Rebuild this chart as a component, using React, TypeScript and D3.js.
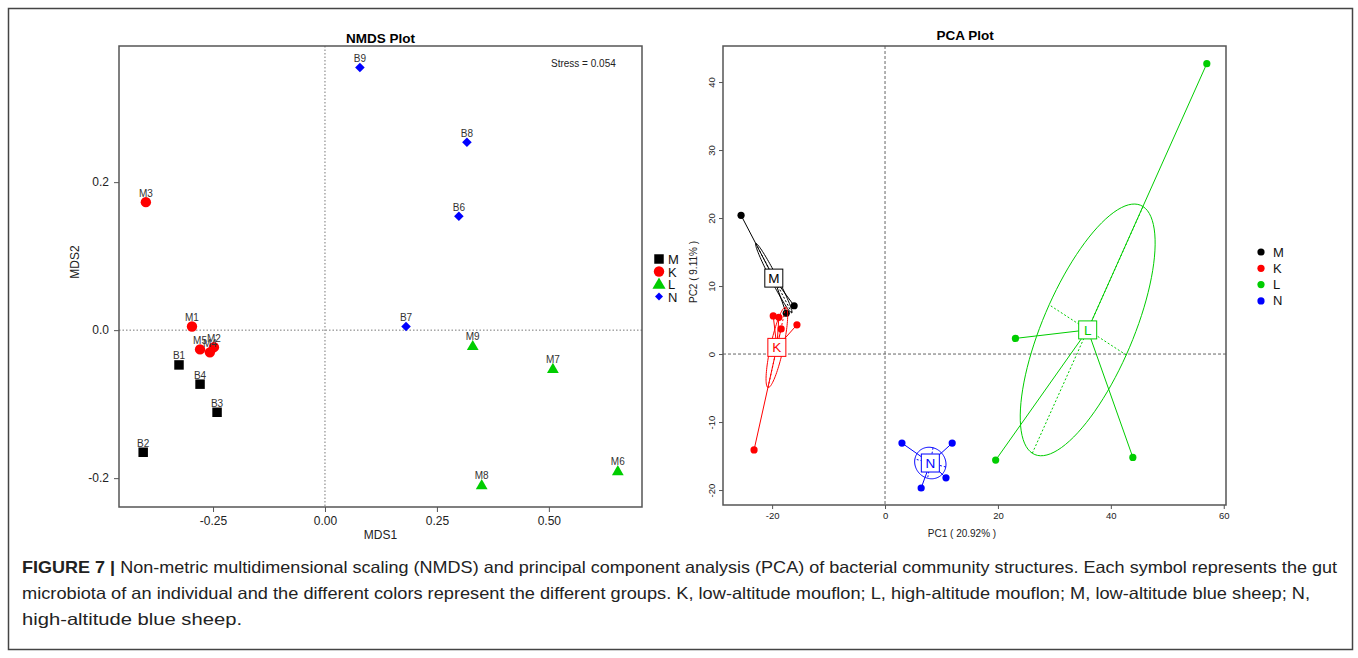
import * as d3 from 'd3';
import { useEffect, useRef } from 'react';

// NMDS samples
const nmdsLabels = ['B1', 'B2', 'B3', 'B4', 'M1', 'M2', 'M3', 'M4', 'M5', 'M6', 'M7', 'M8', 'M9', 'B6', 'B7', 'B8', 'B9'];
const nmdsGroup = ['M', 'M', 'M', 'M', 'K', 'K', 'K', 'K', 'K', 'L', 'L', 'L', 'L', 'N', 'N', 'N', 'N'];
const nmdsX = [-0.326, -0.406, -0.241, -0.279, -0.297, -0.248, -0.4, -0.257, -0.279, 0.654, 0.509, 0.35, 0.33, 0.299, 0.181, 0.317, 0.078];
const nmdsY = [-0.047, -0.165, -0.111, -0.073, 0.005, -0.023, 0.173, -0.03, -0.026, -0.19, -0.052, -0.209, -0.021, 0.154, 0.005, 0.254, 0.355];
const nmdsXTicks = [-0.25, 0, 0.25, 0.5];
const nmdsYTicks = [-0.2, 0, 0.2];
const stressText = 'Stress = 0.054';

// PCA samples
const pcaGroup = ['M', 'M', 'M', 'K', 'K', 'K', 'K', 'K', 'L', 'L', 'L', 'L', 'N', 'N', 'N', 'N'];
const pcaX = [-25.5, -16.1, -17.5, -19.8, -18.8, -18.4, -15.6, -23.2, 57.0, 23.1, 19.6, 43.9, 3.0, 11.9, 10.8, 6.4];
const pcaY = [20.4, 7.1, 6.0, 5.6, 5.4, 3.7, 4.3, -14.1, 42.7, 2.3, -15.6, -15.2, -13.1, -13.1, -18.2, -19.7];
const pcaXTicks = [-20, 0, 20, 40, 60];
const pcaYTicks = [-20, -10, 0, 10, 20, 30, 40];
const pc1Label = 'PC1 ( 20.92% )';
const pc2Label = 'PC2 ( 9.11% )';

const groups = ['M', 'K', 'L', 'N'];
const colors: Record<string, string> = { M: '#000000', K: '#ff0000', L: '#00cd00', N: '#0000ff' };

const captionBold = 'FIGURE 7 |';
const captionLines = [
  ' Non-metric multidimensional scaling (NMDS) and principal component analysis (PCA) of bacterial community structures. Each symbol represents the gut',
  'microbiota of an individual and the different colors represent the different groups. K, low-altitude mouflon; L, high-altitude mouflon; M, low-altitude blue sheep; N,',
  'high-altitude blue sheep.',
];
const captionWidths = [1315, 1288, 220];

const FONT = '"Liberation Sans", Arial, sans-serif';

// covariance ellipse (population covariance, scaled)
function ellipseOf(px: number[], py: number[], c: number) {
  const n = px.length;
  const mx = d3.mean(px)!;
  const my = d3.mean(py)!;
  let sxx = 0, syy = 0, sxy = 0;
  for (let i = 0; i < n; i++) {
    sxx += (px[i] - mx) ** 2;
    syy += (py[i] - my) ** 2;
    sxy += (px[i] - mx) * (py[i] - my);
  }
  sxx /= n; syy /= n; sxy /= n;
  const tr = (sxx + syy) / 2;
  const disc = Math.sqrt(((sxx - syy) / 2) ** 2 + sxy * sxy);
  const l1 = tr + disc;
  const l2 = Math.max(tr - disc, 0);
  let vx = sxy, vy = l1 - sxx;
  if (Math.abs(vx) < 1e-9 && Math.abs(vy) < 1e-9) { vx = 1; vy = 0; }
  const len = Math.hypot(vx, vy);
  vx /= len; vy /= len;
  const a = c * Math.sqrt(l1);
  const b = c * Math.sqrt(l2);
  const pts: [number, number][] = d3.range(0, 101).map(k => {
    const t = (k / 100) * 2 * Math.PI;
    return [mx + a * Math.cos(t) * vx - b * Math.sin(t) * vy, my + a * Math.cos(t) * vy + b * Math.sin(t) * vx];
  });
  const major: [number, number][] = [[mx - a * vx, my - a * vy], [mx + a * vx, my + a * vy]];
  const minor: [number, number][] = [[mx + b * vy, my - b * vx], [mx - b * vy, my + b * vx]];
  return { mx, my, pts, major, minor };
}

const App = () => {
  const ref = useRef<SVGSVGElement>(null);

  useEffect(() => {
    const svg = d3.select(ref.current);
    svg.selectAll('*').remove();

    svg.append('rect').attr('x', 8.5).attr('y', 8.5).attr('width', 1344).attr('height', 641)
      .attr('fill', 'white').attr('stroke', '#444').attr('stroke-width', 1.5);

    const symbol = (g: string) => {
      if (g === 'M') return d3.symbol(d3.symbolSquare, 90)();
      if (g === 'K') return d3.symbol(d3.symbolCircle, 85)();
      if (g === 'L') return d3.symbol(d3.symbolTriangle, 60)();
      return 'M0,-4.8L4.8,0L0,4.8L-4.8,0Z';
    };

    // ---------------- NMDS ----------------
    const nm = { left: 119, right: 642, top: 46, bottom: 507 };
    const x1 = d3.scaleLinear().domain([-0.46, 0.708]).range([nm.left, nm.right]);
    const y1 = d3.scaleLinear().domain([-0.239, 0.384]).range([nm.bottom, nm.top]);
    const p1 = svg.append('g').attr('font-family', FONT);

    p1.append('text').attr('x', (nm.left + nm.right) / 2).attr('y', 43).attr('text-anchor', 'middle')
      .attr('font-weight', 'bold').attr('font-size', 13.5).text('NMDS Plot');

    p1.append('line').attr('x1', x1(0)).attr('x2', x1(0)).attr('y1', nm.top).attr('y2', nm.bottom)
      .attr('stroke', '#777').attr('stroke-dasharray', '1.5,2');
    p1.append('line').attr('x1', nm.left).attr('x2', nm.right).attr('y1', y1(0)).attr('y2', y1(0))
      .attr('stroke', '#777').attr('stroke-dasharray', '1.5,2');

    const ax1 = p1.append('g').attr('transform', `translate(0,${nm.bottom})`)
      .call(d3.axisBottom(x1).tickValues(nmdsXTicks).tickSize(5).tickPadding(4).tickFormat(d => (+d).toFixed(2)));
    const ay1 = p1.append('g').attr('transform', `translate(${nm.left},0)`)
      .call(d3.axisLeft(y1).tickValues(nmdsYTicks).tickSize(5).tickPadding(5).tickFormat(d => (+d).toFixed(1)));
    [ax1, ay1].forEach(a => {
      a.select('.domain').remove();
      a.selectAll('line').attr('stroke', '#555');
      a.selectAll('text').attr('font-size', 12).attr('fill', '#222').attr('font-family', FONT);
    });

    p1.append('rect').attr('x', nm.left).attr('y', nm.top).attr('width', nm.right - nm.left).attr('height', nm.bottom - nm.top)
      .attr('fill', 'none').attr('stroke', '#555').attr('stroke-width', 1.5);

    p1.append('text').attr('x', (nm.left + nm.right) / 2).attr('y', 539).attr('text-anchor', 'middle')
      .attr('font-size', 12).attr('fill', '#222').text('MDS1');
    p1.append('text').attr('transform', `translate(79,262) rotate(-90)`).attr('text-anchor', 'middle')
      .attr('font-size', 12).attr('fill', '#222').text('MDS2');

    p1.append('text').attr('x', 551).attr('y', 67).attr('font-size', 10).attr('fill', '#222').text(stressText);

    const nIdx = d3.range(nmdsLabels.length);
    p1.selectAll('path.pt').data(nIdx).enter().append('path').attr('class', 'pt')
      .attr('transform', i => `translate(${x1(nmdsX[i])},${y1(nmdsY[i]) + (nmdsGroup[i] === 'L' ? 1 : 0)})`)
      .attr('d', i => symbol(nmdsGroup[i]))
      .attr('fill', i => colors[nmdsGroup[i]]);
    p1.selectAll('text.lab').data(nIdx).enter().append('text').attr('class', 'lab')
      .attr('x', i => x1(nmdsX[i]))
      .attr('y', i => y1(nmdsY[i]) - 5.5)
      .attr('text-anchor', 'middle').attr('font-size', 10).attr('fill', '#333')
      .text(i => nmdsLabels[i]);

    const lg1 = p1.append('g').attr('transform', 'translate(659,259)');
    groups.forEach((g, k) => {
      const yy = k * 12.5;
      lg1.append('path').attr('transform', `translate(0,${yy + (g === 'L' ? 1 : 0)})`)
        .attr('d', g === 'L' ? d3.symbol(d3.symbolTriangle, 75)() : g === 'N' ? 'M0,-4L4,0L0,4L-4,0Z' : symbol(g))
        .attr('fill', colors[g]);
      lg1.append('text').attr('x', 9).attr('y', yy + 5).attr('font-size', 13).attr('fill', '#111').text(g);
    });

    // ---------------- PCA ----------------
    const pc = { left: 723, right: 1226, top: 46, bottom: 505 };
    const x2 = d3.scaleLinear().domain([-28.7, 60.4]).range([pc.left, pc.right]);
    const y2 = d3.scaleLinear().domain([-22.2, 45.3]).range([pc.bottom, pc.top]);
    const p2 = svg.append('g').attr('font-family', FONT);

    p2.append('text').attr('x', 965).attr('y', 40).attr('text-anchor', 'middle')
      .attr('font-weight', 'bold').attr('font-size', 13.5).text('PCA Plot');

    p2.append('line').attr('x1', x2(0)).attr('x2', x2(0)).attr('y1', pc.top).attr('y2', pc.bottom)
      .attr('stroke', '#666').attr('stroke-dasharray', '3,2');
    p2.append('line').attr('x1', pc.left).attr('x2', pc.right).attr('y1', y2(0)).attr('y2', y2(0))
      .attr('stroke', '#666').attr('stroke-dasharray', '3,2');

    const ax2 = p2.append('g').attr('transform', `translate(0,${pc.bottom})`)
      .call(d3.axisBottom(x2).tickValues(pcaXTicks).tickSize(4).tickPadding(3).tickFormat(d => String(d)));
    const ay2 = p2.append('g').attr('transform', `translate(${pc.left},0)`)
      .call(d3.axisLeft(y2).tickValues(pcaYTicks).tickSize(4).tickFormat(d => String(d)));
    [ax2, ay2].forEach(a => {
      a.select('.domain').remove();
      a.selectAll('line').attr('stroke', '#555');
      a.selectAll('text').attr('font-size', 9.5).attr('fill', '#222').attr('font-family', FONT);
    });
    ay2.selectAll('text').attr('x', null).attr('dy', null)
      .attr('transform', 'translate(-8,0) rotate(-90)').attr('text-anchor', 'middle');

    p2.append('rect').attr('x', pc.left).attr('y', pc.top).attr('width', pc.right - pc.left).attr('height', pc.bottom - pc.top)
      .attr('fill', 'none').attr('stroke', '#555').attr('stroke-width', 1.5);

    p2.append('text').attr('x', 962).attr('y', 537).attr('text-anchor', 'middle')
      .attr('font-size', 10).attr('fill', '#222').text(pc1Label);
    p2.append('text').attr('transform', `translate(697,272) rotate(-90)`).attr('text-anchor', 'middle')
      .attr('font-size', 10).attr('fill', '#222').text(pc2Label);

    const line = d3.line<[number, number]>().x(d => x2(d[0])).y(d => y2(d[1]));

    groups.forEach(g => {
      const idx = d3.range(pcaGroup.length).filter(i => pcaGroup[i] === g);
      const gx = idx.map(i => pcaX[i]);
      const gy = idx.map(i => pcaY[i]);
      const e = ellipseOf(gx, gy, 0.78);
      const col = colors[g];
      const gg = p2.append('g');
      gg.append('path').attr('d', line(e.pts)).attr('fill', 'none').attr('stroke', col).attr('stroke-width', 1);
      [e.major, e.minor].forEach(seg => {
        gg.append('path').attr('d', line(seg)).attr('fill', 'none').attr('stroke', col)
          .attr('stroke-width', 1).attr('stroke-dasharray', '2,2');
      });
      idx.forEach(i => {
        gg.append('line').attr('x1', x2(e.mx)).attr('y1', y2(e.my)).attr('x2', x2(pcaX[i])).attr('y2', y2(pcaY[i]))
          .attr('stroke', col).attr('stroke-width', 1);
      });
      idx.forEach(i => {
        gg.append('circle').attr('cx', x2(pcaX[i])).attr('cy', y2(pcaY[i])).attr('r', 3.6).attr('fill', col);
      });
      gg.append('rect').attr('x', x2(e.mx) - 9).attr('y', y2(e.my) - 9).attr('width', 18).attr('height', 18)
        .attr('fill', 'white').attr('stroke', col).attr('stroke-width', 1);
      gg.append('text').attr('x', x2(e.mx)).attr('y', y2(e.my) + 5).attr('text-anchor', 'middle')
        .attr('font-size', 13.5).attr('fill', col).text(g);
    });

    const lg2 = p2.append('g').attr('transform', 'translate(1261,252)');
    groups.forEach((g, k) => {
      const yy = k * 16.3;
      lg2.append('circle').attr('cx', 0).attr('cy', yy).attr('r', 3.6).attr('fill', colors[g]);
      lg2.append('text').attr('x', 12).attr('y', yy + 4.5).attr('font-size', 13).attr('fill', '#111').text(g);
    });

    // ---------------- caption ----------------
    const cap = svg.append('g').attr('font-family', FONT).attr('font-size', 16.5).attr('fill', '#222');
    const t1 = cap.append('text').attr('x', 22).attr('y', 573)
      .attr('textLength', captionWidths[0]).attr('lengthAdjust', 'spacingAndGlyphs');
    t1.append('tspan').attr('font-weight', 'bold').text(captionBold);
    t1.append('tspan').text(captionLines[0]);
    cap.append('text').attr('x', 22).attr('y', 599)
      .attr('textLength', captionWidths[1]).attr('lengthAdjust', 'spacingAndGlyphs').text(captionLines[1]);
    cap.append('text').attr('x', 22).attr('y', 625)
      .attr('textLength', captionWidths[2]).attr('lengthAdjust', 'spacingAndGlyphs').text(captionLines[2]);
  }, []);

  return (
    <svg ref={ref} width={1358} height={658}
      style={{ position: 'absolute', left: 0, top: 0, display: 'block', background: 'white' }} />
  );
};

export default App;
